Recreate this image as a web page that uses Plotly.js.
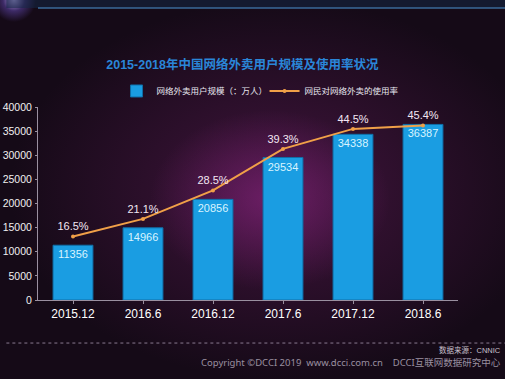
<!DOCTYPE html>
<html>
<head>
<meta charset="utf-8">
<script src="https://cdn.plot.ly/plotly-3.0.1.min.js"></script>
<style>
html,body{margin:0;padding:0;width:505px;height:379px;overflow:hidden;}
body{background:
 radial-gradient(ellipse 120px 90px at 270px 200px, rgba(150,40,140,0.5), rgba(150,40,140,0) 100%),
 radial-gradient(ellipse 270px 190px at 280px 190px, rgba(110,30,100,0.5), rgba(110,30,100,0) 100%),
 radial-gradient(circle 22px at 14px 0px, rgba(200,180,255,0.9), rgba(120,90,220,0.4) 50%, rgba(120,90,220,0) 100%),
 #150a17;}
#chart{position:absolute;left:0;top:0;width:505px;height:379px;}
</style>
</head>
<body>
<div id="chart"></div>
<script>
var categories = ["2015.12","2016.6","2016.12","2017.6","2017.12","2018.6"];
var users = [11356, 14966, 20856, 29534, 34338, 36387];
var rate = [16.5, 21.1, 28.5, 39.3, 44.5, 45.4];
var rateLabels = ["16.5%","21.1%","28.5%","39.3%","44.5%","45.4%"];
var yTicks = [0,5000,10000,15000,20000,25000,30000,35000,40000];

var font = "Arial, 'Liberation Sans', 'Noto Sans CJK SC', sans-serif";

var bars = {
  type: "bar", x: categories, y: users,
  name: "网络外卖用户规模（：万人）",
  marker: {color: "#1a9de2", line: {color: "#0f6fa8", width: 1}},
  width: 0.57,
  text: users.map(String), textposition: "inside", insidetextanchor: "end",
  textfont: {color: "#d8f4ff", size: 11, family: font},
  cliponaxis: false, hoverinfo: "none"
};
var line = {
  type: "scatter", mode: "lines+markers+text", x: categories, y: rate, yaxis: "y2",
  name: "网民对网络外卖的使用率",
  line: {color: "#f0a048", width: 2},
  marker: {color: "#f0a048", size: 4},
  text: rateLabels, textposition: "top center",
  textfont: {color: "#f2e6f2", size: 11, family: font},
  cliponaxis: false, hoverinfo: "none"
};

var layout = {
  width: 505, height: 379,
  paper_bgcolor: "rgba(0,0,0,0)", plot_bgcolor: "rgba(0,0,0,0)",
  margin: {l: 38, r: 47, t: 107, b: 79},
  showlegend: true,
  legend: {orientation: "h", x: 0.187, y: 1.083, xanchor: "left", yanchor: "middle",
    font: {color: "#e8e8f0", size: 8.5, family: font}, bgcolor: "rgba(0,0,0,0)",
    entrywidth: 103, entrywidthmode: "pixels", itemwidth: 30, tracegroupgap: 0},
  title: {text: "<b>2015-2018年中国网络外卖用户规模及使用率状况</b>",
    x: 0.48, xanchor: "center", y: 0.83, yanchor: "middle",
    font: {color: "#2a86d8", size: 12.5, family: font}},
  xaxis: {type: "category", range: [-0.5, 5.5], showgrid: false, zeroline: false,
    showline: true, linecolor: "#9a90a0", linewidth: 1, ticks: "outside", ticklen: 3, tickcolor: "#9a90a0",
    tickfont: {color: "#ffffff", size: 12, family: font}, fixedrange: true},
  yaxis: {range: [0, 40000], tickvals: yTicks, ticktext: yTicks.map(String), showgrid: false, zeroline: false,
    showline: true, linecolor: "#9a90a0", linewidth: 1, ticks: "outside", ticklen: 2, tickcolor: "#9a90a0",
    tickfont: {color: "#f0f0f0", size: 10.5, family: font}, ticklabelstandoff: 1},
  yaxis2: {overlaying: "y", side: "right", range: [0, 50.2], visible: false, showgrid: false},
  bargap: 0.43,
  shapes: [
    {type: "rect", xref: "paper", yref: "paper", x0: -0.0753, x1: 1.112, y0: 1.513, y1: 1.56,
      fillcolor: "rgba(20,40,70,0.55)", line: {width: 0}},
    {type: "line", xref: "paper", yref: "paper", x0: 0.0, x1: 1.112, y0: 1.513, y1: 1.513,
      line: {color: "#3a6a9a", width: 1.5}},
    {type: "line", xref: "paper", yref: "paper", x0: -0.0753, x1: 1.112, y0: -0.223, y1: -0.223,
      line: {color: "#8a7a90", width: 1, dash: "dot"}}
  ],
  annotations: [
    {xref: "paper", yref: "paper", x: 1.108, y: -0.258, xanchor: "right", yanchor: "middle", showarrow: false,
      text: "数据来源：CNNIC", font: {color: "#c8c0cc", size: 7.5, family: font}},
    {xref: "paper", yref: "paper", x: 1.108, y: -0.322, xanchor: "right", yanchor: "middle", showarrow: false,
      text: "Copyright ©DCCI 2019  www.dcci.com.cn    DCCI互联网数据研究中心",
      font: {color: "#9a90a0", size: 9.5, family: "'Noto Sans', 'Noto Sans CJK SC', sans-serif"}}
  ]
};

Plotly.newPlot("chart", [bars, line], layout, {displayModeBar: false, staticPlot: true});
</script>
</body>
</html>
